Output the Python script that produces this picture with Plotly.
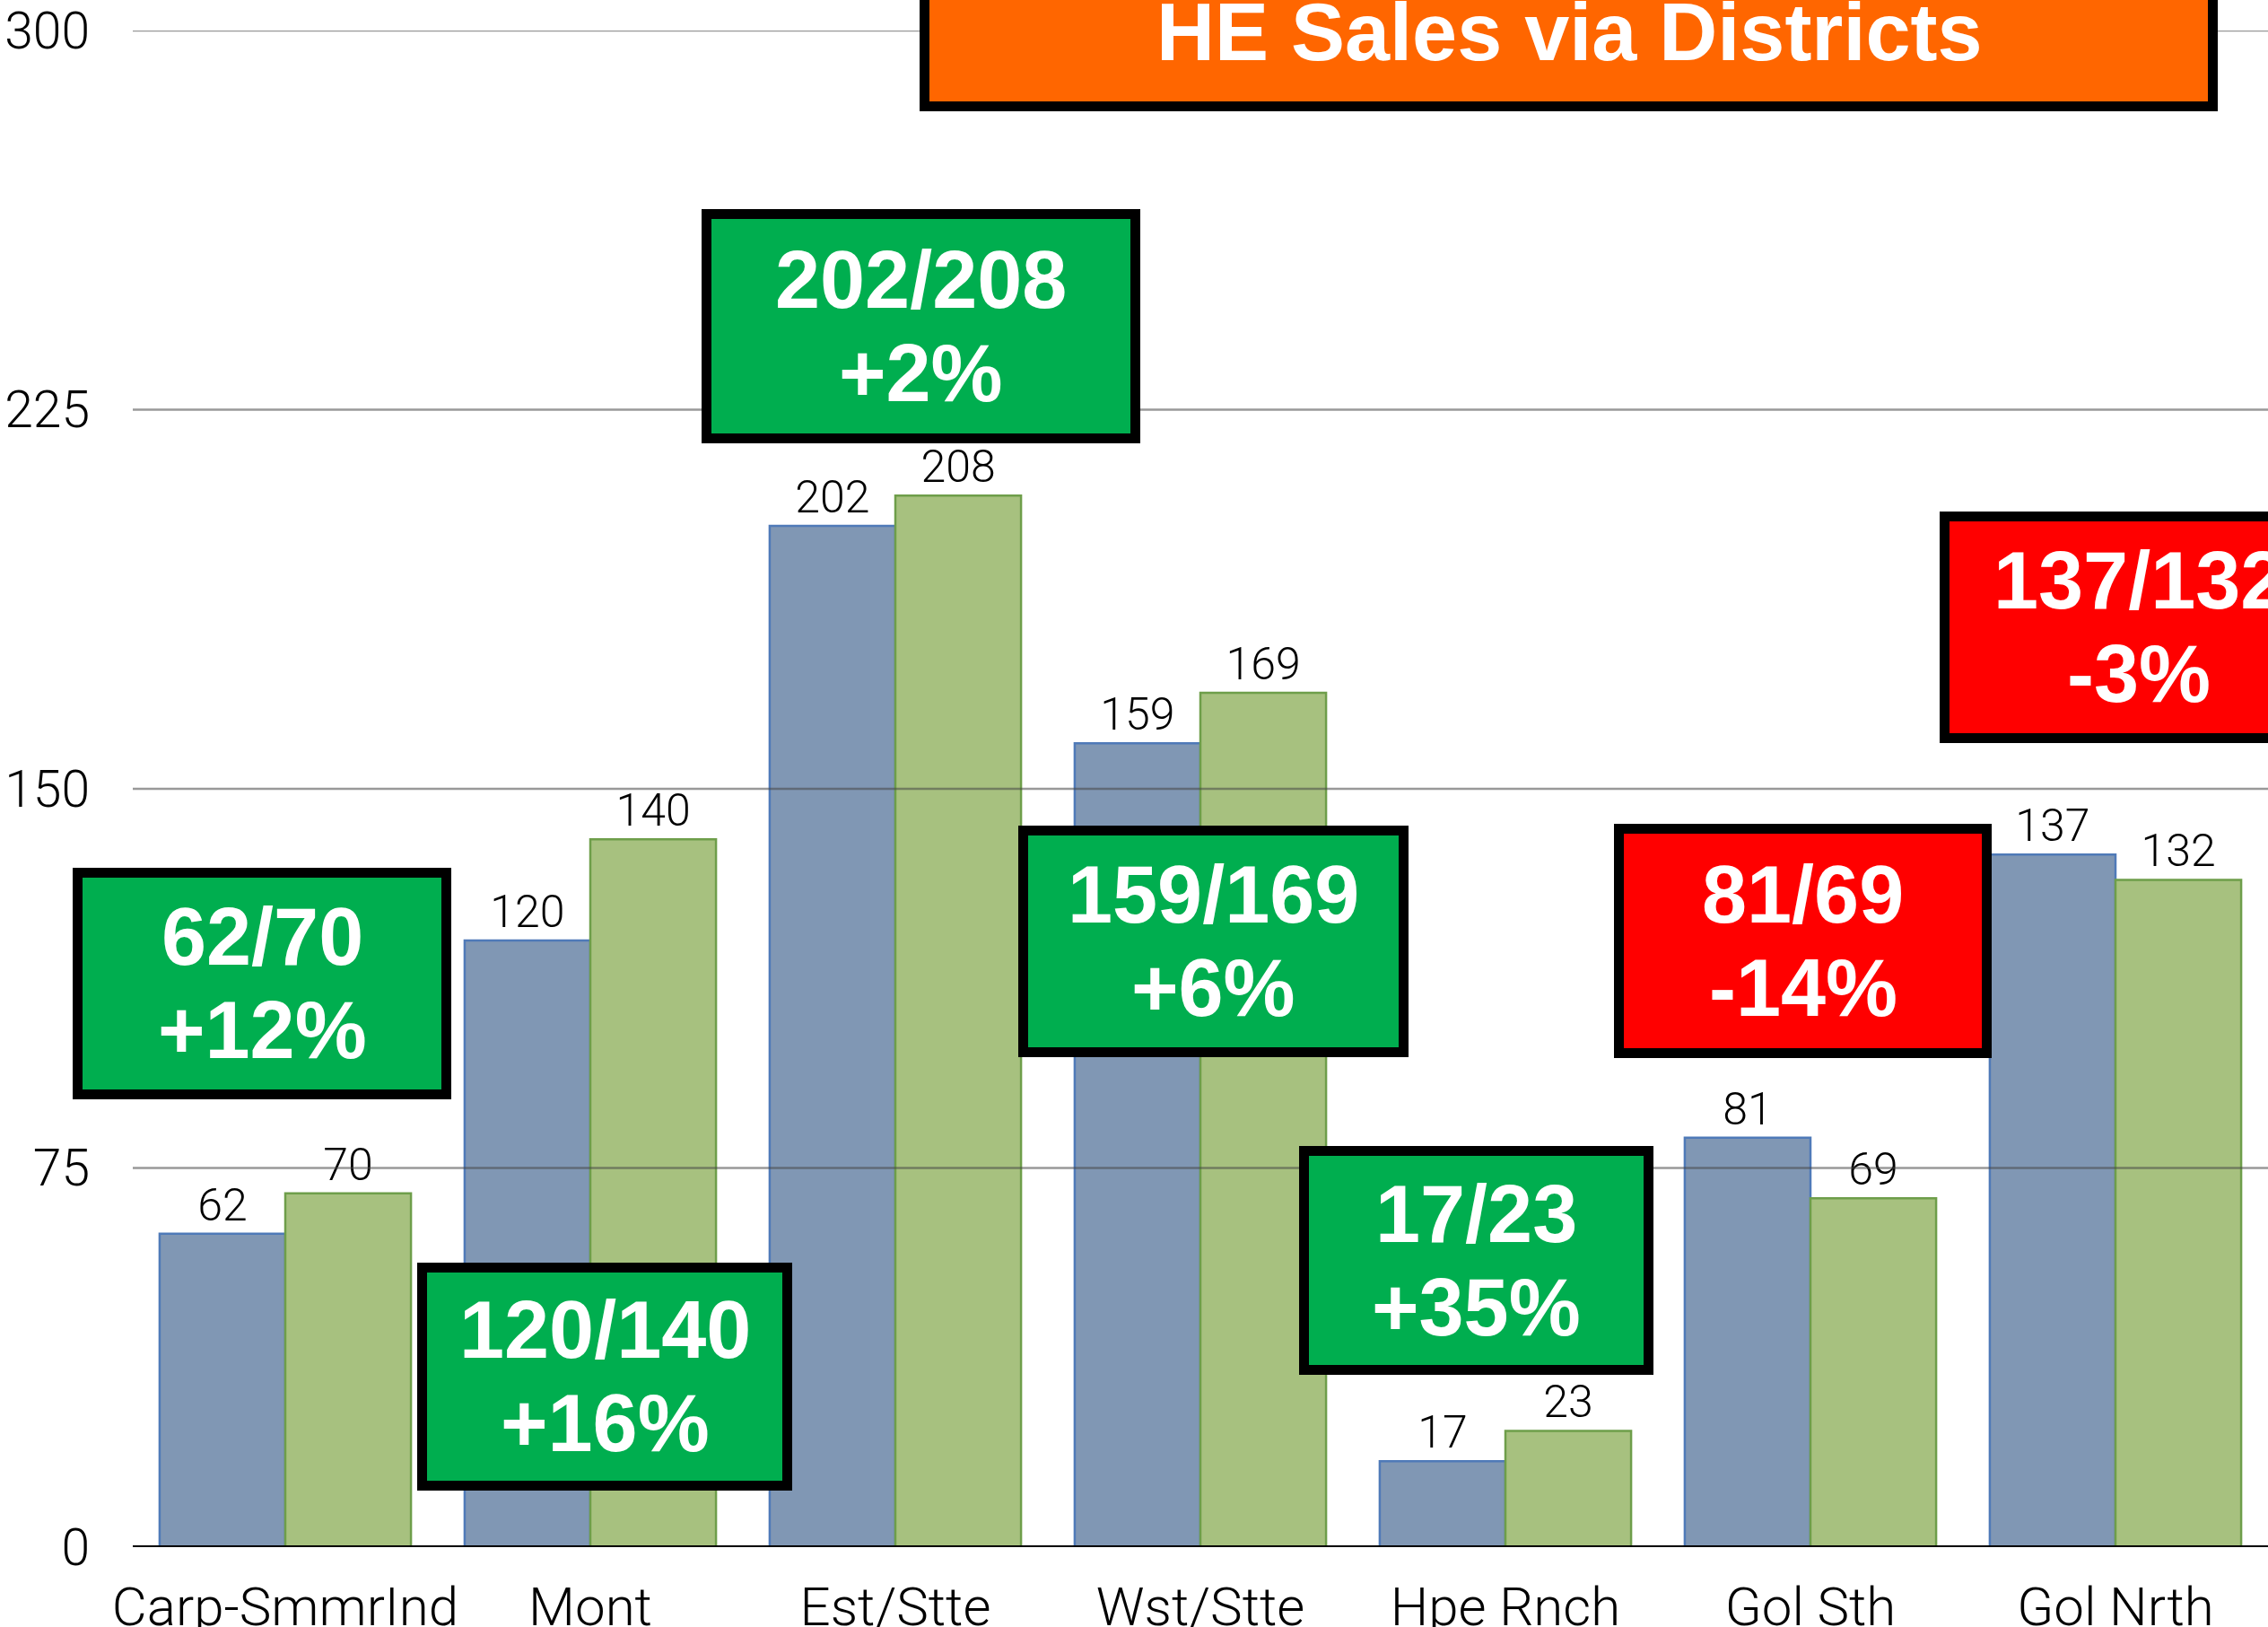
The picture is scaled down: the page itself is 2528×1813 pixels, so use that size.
import plotly.graph_objects as go

# ---- data ----
categories = ["Carp-SmmrInd", "Mont", "Est/Stte", "Wst/Stte", "Hpe Rnch", "Gol Sth", "Gol Nrth"]
prev_year = [62, 120, 202, 159, 17, 81, 137]
curr_year = [70, 140, 208, 169, 23, 69, 132]
y_ticks = [0, 75, 150, 225, 300]
title_text = "HE Sales via Districts"

# ---- layout geometry (pixels) ----
W, H = 2528, 1813
ML, MR, MT, MB = 148, 0, 34, 89
PW, PH = W - ML - MR, H - MT - MB

def px_x(x):
    return (x - ML) / PW

def px_y(y):
    return (H - MB - y) / PH

# callout boxes: outer pixel rectangles (x0, x1, y0, y1)
box_px = [
    (81, 503, 967, 1225),
    (465, 883, 1407, 1661),
    (782, 1271, 233, 494),
    (1135, 1570, 920, 1178),
    (1448, 1843, 1277, 1532),
    (1799, 2220, 918, 1179),
    (2162, 2606, 570, 828),
]
title_px = (1025, 2472, -51, 124)

BLUE_FILL, BLUE_EDGE = "#8097B4", "#4F7AB8"
GREEN_FILL, GREEN_EDGE = "#A7C17F", "#6E9E4A"
GOOD, BAD, ORANGE = "#00AE4F", "#FF0000", "#FF6600"
BW = 11
LIGHT = dict(family="Roboto, Liberation Sans, sans-serif", weight=300, color="black")

fig = go.Figure()
fig.add_trace(go.Bar(
    x=categories, y=prev_year, name="prev",
    marker=dict(color=BLUE_FILL, line=dict(color=BLUE_EDGE, width=2.5)),
    text=[str(v) for v in prev_year], textposition="outside",
    textfont=dict(size=50, **LIGHT),
    cliponaxis=False,
))
fig.add_trace(go.Bar(
    x=categories, y=curr_year, name="curr",
    marker=dict(color=GREEN_FILL, line=dict(color=GREEN_EDGE, width=2.5)),
    text=[str(v) for v in curr_year], textposition="outside",
    textfont=dict(size=50, **LIGHT),
    cliponaxis=False,
))

shapes = []
# gridlines drawn above the bars
for t in y_ticks[1:]:
    shapes.append(dict(type="line", xref="paper", yref="y", x0=0, x1=1, y0=t, y1=t,
                       line=dict(color="rgba(70,70,70,0.55)", width=2.5), layer="above"))
# baseline
shapes.append(dict(type="line", xref="paper", yref="y", x0=0, x1=1, y0=0, y1=0,
                   line=dict(color="black", width=4), layer="above"))

annotations = []

def add_box(rect, fill, lines, fsize=90):
    x0, x1, y0, y1 = rect
    h = BW / 2
    shapes.append(dict(type="rect", xref="paper", yref="paper",
                       x0=px_x(x0 + h), x1=px_x(x1 - h), y0=px_y(y1 - h), y1=px_y(y0 + h),
                       fillcolor=fill, line=dict(color="black", width=BW), layer="above"))
    cx = (x0 + x1) / 2
    cy = (y0 + y1) / 2
    n = len(lines)
    step = 104
    for i, s in enumerate(lines):
        yy = cy + (i - (n - 1) / 2) * step
        annotations.append(dict(xref="paper", yref="paper", x=px_x(cx), y=px_y(yy),
                                xanchor="center", yanchor="middle", showarrow=False,
                                text=f"<b>{s}</b>",
                                font=dict(family="Liberation Sans", size=fsize, color="white")))

for i, rect in enumerate(box_px):
    p, c = prev_year[i], curr_year[i]
    pct = int((c - p) / p * 100)
    fill = GOOD if c >= p else BAD
    add_box(rect, fill, [f"{p}/{c}", f"{pct:+d}%"])

# title box
tx0, tx1, ty0, ty1 = title_px
h = BW / 2
shapes.append(dict(type="rect", xref="paper", yref="paper",
                   x0=px_x(tx0 + h), x1=px_x(tx1 - h), y0=px_y(ty1 - h), y1=px_y(ty0 + h),
                   fillcolor=ORANGE, line=dict(color="black", width=BW), layer="above"))
annotations.append(dict(xref="paper", yref="paper", x=px_x((tx0 + tx1) / 2), y=px_y(36),
                        xanchor="center", yanchor="middle", showarrow=False,
                        text=f"<b>{title_text}</b>",
                        font=dict(family="Liberation Sans", size=90, color="white")))

fig.update_layout(
    width=W, height=H,
    margin=dict(l=ML, r=MR, t=MT, b=MB, pad=0, autoexpand=False),
    paper_bgcolor="white", plot_bgcolor="white",
    barmode="group", bargap=0.176, bargroupgap=0,
    showlegend=False,
    shapes=shapes, annotations=annotations,
    xaxis=dict(
        type="category", range=[-0.5, len(categories) - 0.5],
        showgrid=False, showline=False, zeroline=False, ticks="",
        tickfont=dict(size=60, **LIGHT),
        ticklabelstandoff=26, automargin=False,
    ),
    yaxis=dict(
        range=[0, 300], tickvals=y_ticks, ticktext=[str(t) for t in y_ticks],
        showgrid=False, zeroline=False, showline=False, ticks="",
        tickfont=dict(size=57, **LIGHT),
        ticklabelstandoff=47, automargin=False,
    ),
)

fig.write_html(
    "out.html",
    config={"displayModeBar": False},
    post_script="document.body.style.margin='0';document.body.style.overflow='hidden';",
)
